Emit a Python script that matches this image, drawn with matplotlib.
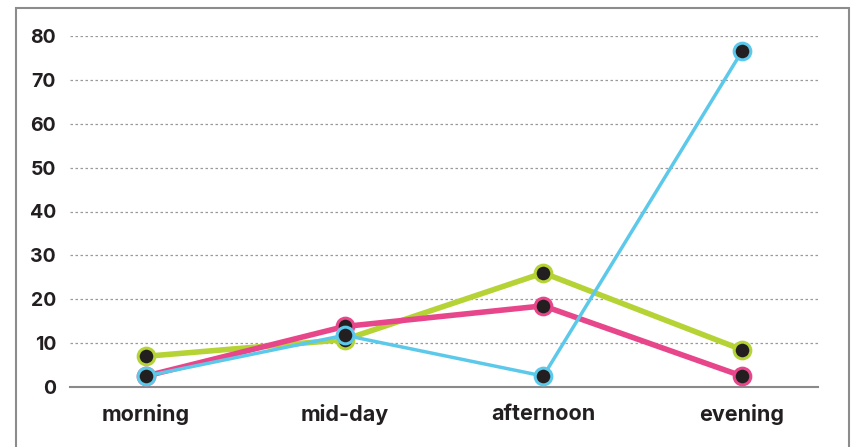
import matplotlib
matplotlib.use('Agg')
import matplotlib.pyplot as plt
from matplotlib.patches import Rectangle

# dados
periods = ['morning', 'mid-day', 'afternoon', 'evening']
green_vals = [7, 10.8, 26, 8.5]
pink_vals = [2.5, 13.8, 18.5, 2.5]
blue_vals = [2.5, 11.8, 2.5, 76.5]
y_ticks = [0, 10, 20, 30, 40, 50, 60, 70, 80]

plt.rcParams['font.family'] = ['Inter', 'DejaVu Sans']
plt.rcParams['font.weight'] = 'bold'

W, H = 852, 447
fig = plt.figure(figsize=(W / 100, H / 100), dpi=100)
ax = fig.add_axes([70 / W, 60 / H, 748 / W, 351 / H])

x = range(len(periods))
series = [
    (green_vals, '#b5d334', 4.0),
    (pink_vals, '#e8468a', 4.0),
    (blue_vals, '#5cc9ea', 2.5),
]
for vals, col, lw in series:
    ax.plot(x, vals, color=col, lw=lw, marker='o', markersize=12,
            markerfacecolor='#231f20', markeredgecolor=col, markeredgewidth=2.2,
            clip_on=False, zorder=3)

ax.set_xlim(-0.383, 3.383)
ax.set_ylim(0, 80)
ax.set_yticks(y_ticks)
ax.set_xticks(list(x))
ax.set_xticklabels(periods)

for t in y_ticks[1:]:
    ax.axhline(t, color='#9a9a9a', lw=0.9, ls=(0, (2, 2)), zorder=1)

for s in ['top', 'right', 'left']:
    ax.spines[s].set_visible(False)
ax.spines['bottom'].set_color('#8a8a8a')
ax.spines['bottom'].set_linewidth(1.5)

ax.tick_params(axis='y', length=0, pad=10, labelsize=14, labelcolor='#231f20')
ax.tick_params(axis='x', length=0, pad=12, labelsize=15.5, labelcolor='#231f20')

# moldura cinza em volta
fig.patches.append(Rectangle((16 / W, -0.1), (849 - 16) / W, 1.1 - 8 / H,
                             transform=fig.transFigure, fill=False,
                             edgecolor='#8c8c8c', lw=1.5))

fig.savefig('out.png', dpi=100)
